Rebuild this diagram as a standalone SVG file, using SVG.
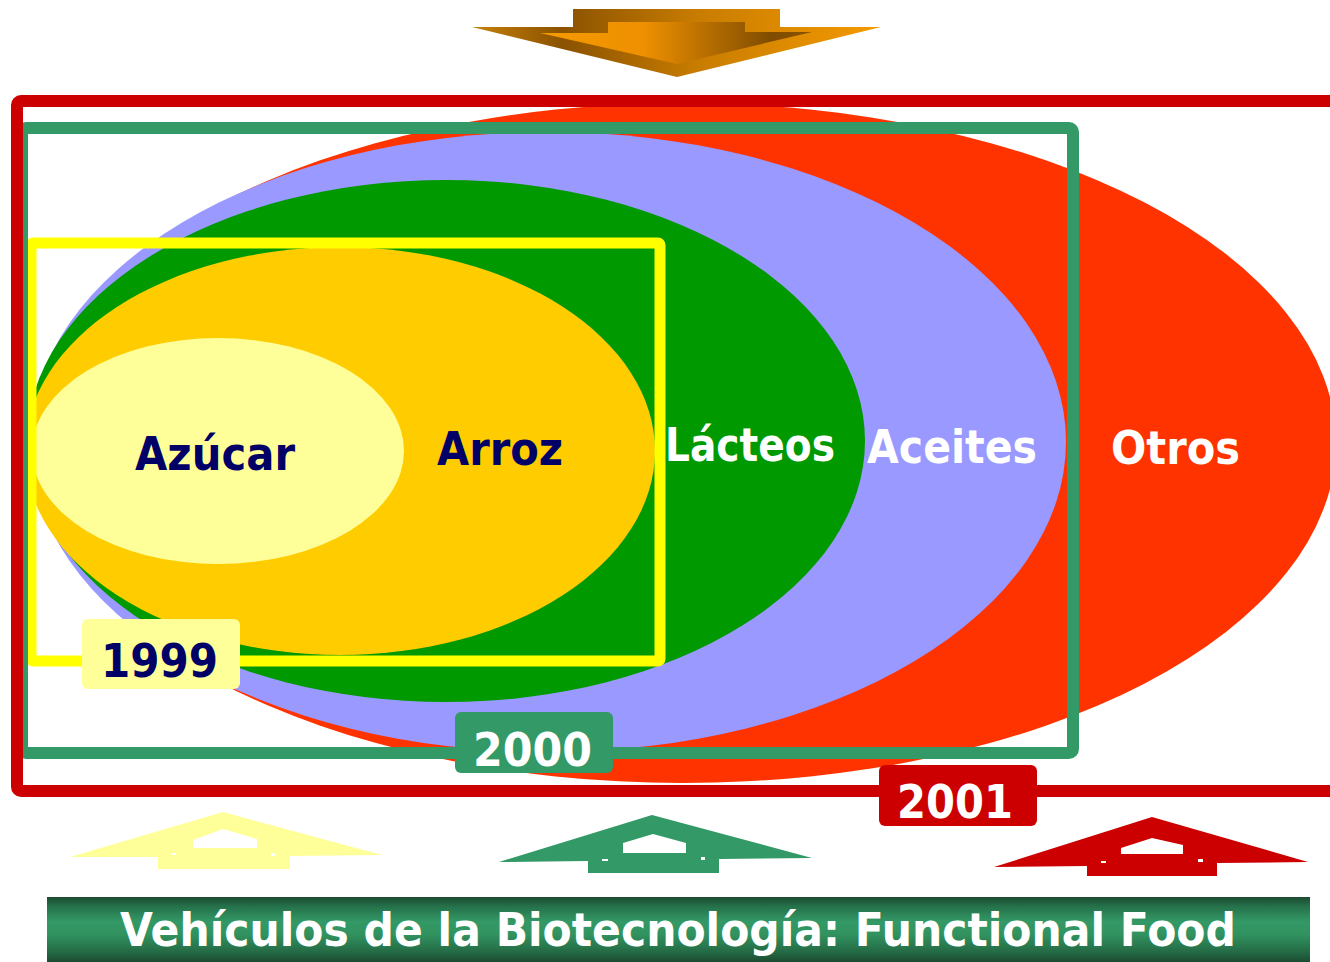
<svg xmlns="http://www.w3.org/2000/svg" width="1330" height="962" viewBox="0 0 1330 962">
<style>
.lbl{font-family:"DejaVu Sans","Liberation Sans",sans-serif;font-weight:bold;font-size:47px}
.navy{fill:#000066}
.wht{fill:#ffffff}
.frame{fill:none;stroke-linejoin:round}
</style>
<defs>
<linearGradient id="gOuter" gradientUnits="userSpaceOnUse" x1="472" y1="0" x2="881" y2="0">
<stop offset="0" stop-color="#C8820A"/>
<stop offset="0.22" stop-color="#8A5200"/>
<stop offset="0.55" stop-color="#C87C00"/>
<stop offset="1" stop-color="#F59A00"/>
</linearGradient>
<linearGradient id="gInner" gradientUnits="userSpaceOnUse" x1="540" y1="0" x2="812" y2="0">
<stop offset="0" stop-color="#F59A00"/>
<stop offset="0.38" stop-color="#EE9000"/>
<stop offset="0.85" stop-color="#7F4C00"/>
<stop offset="1" stop-color="#8A5200"/>
</linearGradient>
<linearGradient id="gBanner" x1="0" y1="0" x2="0" y2="1">
<stop offset="0" stop-color="#1B4B31"/>
<stop offset="0.14" stop-color="#25704A"/>
<stop offset="0.38" stop-color="#339966"/>
<stop offset="0.58" stop-color="#31925F"/>
<stop offset="0.85" stop-color="#246A45"/>
<stop offset="1" stop-color="#1B4B31"/>
</linearGradient>
</defs>

<g id="top-arrow">
<polygon points="573,9 780,9 780,27 881,27 677,77 472,27 573,27" fill="url(#gOuter)"/>
<polygon points="608,22 745,22 745,32 812,32 677,64 540,33 608,33" fill="url(#gInner)"/>
</g>

<g id="ellipses">
<ellipse id="otros" cx="683" cy="443" rx="653" ry="340" fill="#FF3300"/>
<ellipse id="aceites" cx="548" cy="442" rx="518" ry="310" fill="#9999FF"/>
<ellipse id="lacteos" cx="446" cy="441" rx="419" ry="261" fill="#009900"/>
<ellipse id="arroz" cx="340" cy="451" rx="315" ry="204" fill="#FFCC00"/>
<ellipse id="azucar" cx="218" cy="451" rx="186" ry="113" fill="#FFFF99"/>
</g>

<g id="frames">
<rect id="frame-1999" class="frame" x="31" y="243" width="629" height="418" rx="2" stroke="#FFFF00" stroke-width="11"/>
<rect id="frame-2000" class="frame" x="22" y="128" width="1051" height="625" rx="4" stroke="#339966" stroke-width="12"/>
<rect id="frame-2001" class="frame" x="17" y="101" width="1330" height="690" rx="4" stroke="#CC0000" stroke-width="12"/>
</g>

<g id="labels">
<text class="lbl navy" x="135" y="470" textLength="160" lengthAdjust="spacingAndGlyphs">Azúcar</text>
<text class="lbl navy" x="437" y="465" textLength="126" lengthAdjust="spacingAndGlyphs">Arroz</text>
<text class="lbl wht" x="665" y="461" textLength="170" lengthAdjust="spacingAndGlyphs">Lácteos</text>
<text class="lbl wht" x="867" y="463" textLength="170" lengthAdjust="spacingAndGlyphs">Aceites</text>
<text class="lbl wht" x="1111" y="464" textLength="129" lengthAdjust="spacingAndGlyphs">Otros</text>
</g>

<g id="year-1999">
<rect x="82" y="619" width="158" height="70" rx="6" fill="#FFFF99"/>
<text class="lbl navy" x="101" y="677" textLength="117" lengthAdjust="spacingAndGlyphs">1999</text>
</g>
<g id="year-2000">
<rect x="455" y="712" width="158" height="61" rx="6" fill="#339966"/>
<text class="lbl wht" x="473" y="766" textLength="119" lengthAdjust="spacingAndGlyphs">2000</text>
</g>
<g id="year-2001">
<rect x="879" y="765" width="158" height="61" rx="6" fill="#CC0000"/>
<text class="lbl wht" x="897" y="818" textLength="116" lengthAdjust="spacingAndGlyphs">2001</text>
</g>

<g id="arrow-1999">
<path fill="#FFFF99" fill-rule="evenodd" d="M223,812 L382,855 L290,856 L290,869 L158,869 L158,857 L70,857 Z M223,829 L257,839 L257,848 L193,848 L193,840 Z"/>
<rect x="172" y="853" width="4" height="2" fill="#fff"/>
<rect x="271" y="853" width="4" height="3" fill="#fff"/>
</g>
<g id="arrow-2000">
<path fill="#339966" fill-rule="evenodd" d="M652,815 L812,858 L719,859 L719,873 L588,873 L588,861 L499,862 Z M653,834 L686,843 L686,853 L623,853 L623,843 Z"/>
<rect x="602" y="859" width="6" height="2" fill="#fff"/>
<rect x="701" y="857" width="4" height="3" fill="#fff"/>
</g>
<g id="arrow-2001">
<path fill="#CC0000" fill-rule="evenodd" d="M1152,817 L1308,862 L1217,863 L1217,876 L1087,876 L1087,866 L994,867 Z M1152,838 L1183,845 L1183,854 L1121,854 L1121,848 Z"/>
<rect x="1101" y="861" width="5" height="2" fill="#fff"/>
<rect x="1198" y="859" width="5" height="3" fill="#fff"/>
</g>

<g id="banner">
<rect x="47" y="897" width="1263" height="65" fill="url(#gBanner)"/>
<text class="lbl wht" x="120" y="946" font-size="45" textLength="1116" lengthAdjust="spacingAndGlyphs">Vehículos de la Biotecnología: Functional Food</text>
</g>
</svg>
